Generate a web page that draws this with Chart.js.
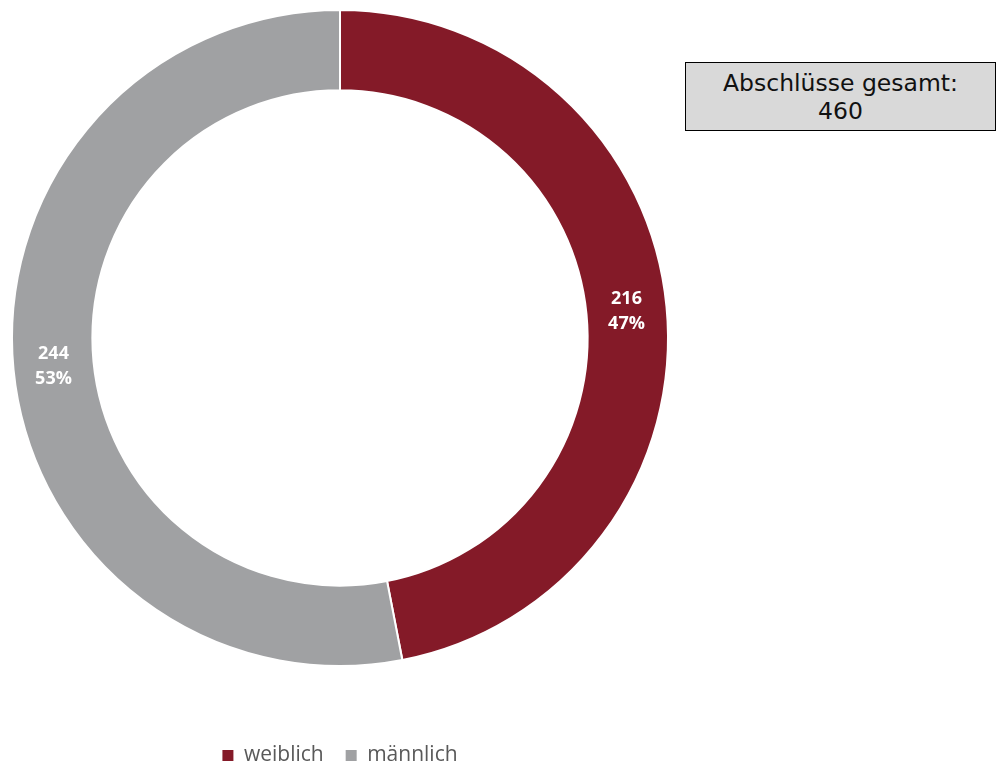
<!DOCTYPE html>
<html>
<head>
<meta charset="utf-8">
<script src="https://cdn.jsdelivr.net/npm/chart.js@4.4.0/dist/chart.umd.min.js"></script>
<style>
  html, body { margin: 0; padding: 0; background: #fff; width: 996px; height: 769px; overflow: hidden; }
  #wrap { position: absolute; left: 0; top: 0; width: 680px; height: 776px; }
  #totalBox {
    position: absolute; left: 685px; top: 62px; width: 311px; height: 69px;
    box-sizing: border-box; border: 1px solid #000; background: #d9d9d9;
    font-family: "DejaVu Sans"; font-size: 23.5px; line-height: 28px;
    text-align: center; padding-top: 6px; color: #111;
  }
</style>
</head>
<body>
<div id="wrap"><canvas id="genderChart"></canvas></div>
<div id="totalBox"></div>
<script>
const labels = ["weiblich", "männlich"];
const counts = [216, 244];
const colors = ["#841a28", "#a0a1a3"];
const totalText = "Abschlüsse gesamt:";

const total = counts.reduce((a, b) => a + b, 0);
document.getElementById("totalBox").innerHTML = `${totalText}<br>${total}`;

// value + percent inside each ring segment
const sliceLabels = {
  id: "sliceLabels",
  afterDatasetsDraw(chart) {
    const ctx = chart.ctx;
    const meta = chart.getDatasetMeta(0);
    ctx.save();
    ctx.fillStyle = "#ffffff";
    ctx.font = "bold 18px 'Open Sans'";
    ctx.textAlign = "center";
    ctx.textBaseline = "middle";
    meta.data.forEach((arc, i) => {
      const p = arc.tooltipPosition();
      ctx.fillText(String(counts[i]), p.x, p.y - 12);
      ctx.fillText(Math.round((counts[i] / total) * 100) + "%", p.x, p.y + 13);
    });
    ctx.restore();
  },
};

const baseLabels = Chart.overrides.doughnut.plugins.legend.labels.generateLabels;

new Chart(document.getElementById("genderChart"), {
  type: "doughnut",
  data: {
    labels: labels,
    datasets: [
      {
        data: counts,
        backgroundColor: colors,
        borderColor: "#ffffff",
        borderWidth: 2,
      },
    ],
  },
  options: {
    responsive: true,
    maintainAspectRatio: false,
    animation: false,
    cutout: "75.5%",
    layout: { padding: { left: 11, right: 11, top: 9, bottom: 0 } },
    plugins: {
      tooltip: { enabled: false },
      legend: {
        position: "bottom",
        title: { display: true, text: "", padding: { top: 0, bottom: 41.6 } },
        labels: {
          boxWidth: 11,
          boxHeight: 11,
          padding: 22,
          color: "#595959",
          font: { family: "'Open Sans'", size: 21 },
          generateLabels: (chart) =>
            baseLabels(chart).map((l) => ({ ...l, lineWidth: 0, strokeStyle: l.fillStyle })),
        },
      },
    },
  },
  plugins: [sliceLabels],
});
</script>
</body>
</html>
